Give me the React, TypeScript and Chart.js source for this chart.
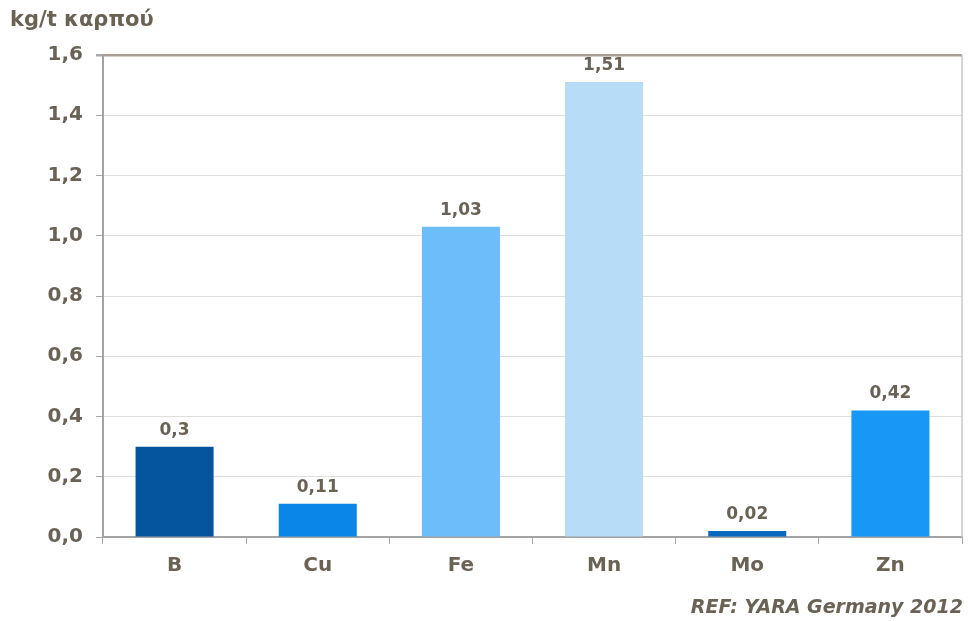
import React, { useEffect, useRef } from "react";
import { Chart, registerables } from "chart.js";

Chart.register(...registerables);

// Micronutrient removal per tonne of fruit
const elements = ["B", "Cu", "Fe", "Mn", "Mo", "Zn"];
const removal = [0.3, 0.11, 1.03, 1.51, 0.02, 0.42];
const barColors = ["#04559C", "#0A86E8", "#6CBDFA", "#B6DCF8", "#096BC0", "#1997F7"];
const yTicks = [0, 0.2, 0.4, 0.6, 0.8, 1.0, 1.2, 1.4, 1.6];

const unitLabel = "kg/t καρπού";
const sourceNote = "REF: YARA Germany 2012";

const TEXT = "#6b6256";
const FONT = "'DejaVu Sans', Arial, sans-serif";

const fmt = (v: number, digits?: number) =>
  (digits === undefined ? String(v) : v.toFixed(digits)).replace(".", ",");

const annotations = {
  id: "annotations",
  afterDatasetsDraw(chart: any) {
    const { ctx, chartArea } = chart;
    const meta = chart.getDatasetMeta(0);
    ctx.save();
    // value labels above bars
    ctx.fillStyle = TEXT;
    ctx.font = `bold 17px ${FONT}`;
    ctx.textAlign = "center";
    ctx.textBaseline = "bottom";
    meta.data.forEach((bar: any, i: number) => {
      ctx.fillText(fmt(removal[i]), bar.x, bar.y - 8);
    });
    // right frame line
    ctx.strokeStyle = "#c9c9c9";
    ctx.lineWidth = 1.5;
    ctx.beginPath();
    ctx.moveTo(chartArea.right, chartArea.top);
    ctx.lineTo(chartArea.right, chartArea.bottom);
    ctx.stroke();
    // unit label
    ctx.textAlign = "left";
    ctx.textBaseline = "middle";
    ctx.font = `bold 21px ${FONT}`;
    ctx.fillText(unitLabel, 10, 21);
    // source note
    ctx.textAlign = "right";
    ctx.font = `italic bold 19px ${FONT}`;
    ctx.fillText(sourceNote, chart.width - 5, 608);
    ctx.restore();
  },
};

export default function App() {
  const ref = useRef<HTMLCanvasElement>(null);

  useEffect(() => {
    const canvas = ref.current;
    if (!canvas) return;
    const chart = new Chart(canvas, {
      type: "bar",
      data: {
        labels: elements,
        datasets: [
          {
            data: removal,
            backgroundColor: barColors,
            borderWidth: 0,
            categoryPercentage: 1,
            barPercentage: 0.545,
          },
        ],
      },
      options: {
        animation: false,
        responsive: false,
        maintainAspectRatio: false,
        layout: { padding: { top: 55, right: 6, left: 0, bottom: 0 } },
        plugins: {
          legend: { display: false },
          tooltip: { enabled: false },
        },
        scales: {
          x: {
            grid: {
              display: true,
              drawOnChartArea: false,
              drawTicks: true,
              tickLength: 7,
              color: "#a8a8a8",
              lineWidth: 1,
            },
            border: { display: true, color: "#a3a3a3", width: 2 },
            ticks: {
              color: TEXT,
              font: { family: FONT, size: 20, weight: "bold" },
              padding: 10,
            },
            afterFit(scale: any) {
              scale.height = 84;
            },
          },
          y: {
            min: 0,
            max: 1.6,
            afterBuildTicks(scale: any) {
              scale.ticks = yTicks.map((v) => ({ value: v }));
            },
            grid: {
              color: (c: any) =>
                c.tick && Math.abs(c.tick.value - 1.6) < 1e-6 ? "#a79e90" : "#dedede",
              lineWidth: (c: any) =>
                c.tick && Math.abs(c.tick.value - 1.6) < 1e-6 ? 2.5 : 1,
              tickLength: 7,
              tickColor: "#a8a8a8",
            },
            border: { display: true, color: "#a3a3a3", width: 2 },
            ticks: {
              color: TEXT,
              font: { family: FONT, size: 20, weight: "bold" },
              padding: 13,
              callback: (v: any) => fmt(Number(v), 1),
            },
            afterFit(scale: any) {
              scale.width = 103;
            },
          },
        },
      },
      plugins: [annotations],
    });
    return () => chart.destroy();
  }, []);

  return (
    <div style={{ position: "fixed", left: 0, top: 0, width: 968, height: 621, background: "#fff" }}>
      <canvas ref={ref} width={968} height={621} style={{ width: 968, height: 621 }} />
    </div>
  );
}
